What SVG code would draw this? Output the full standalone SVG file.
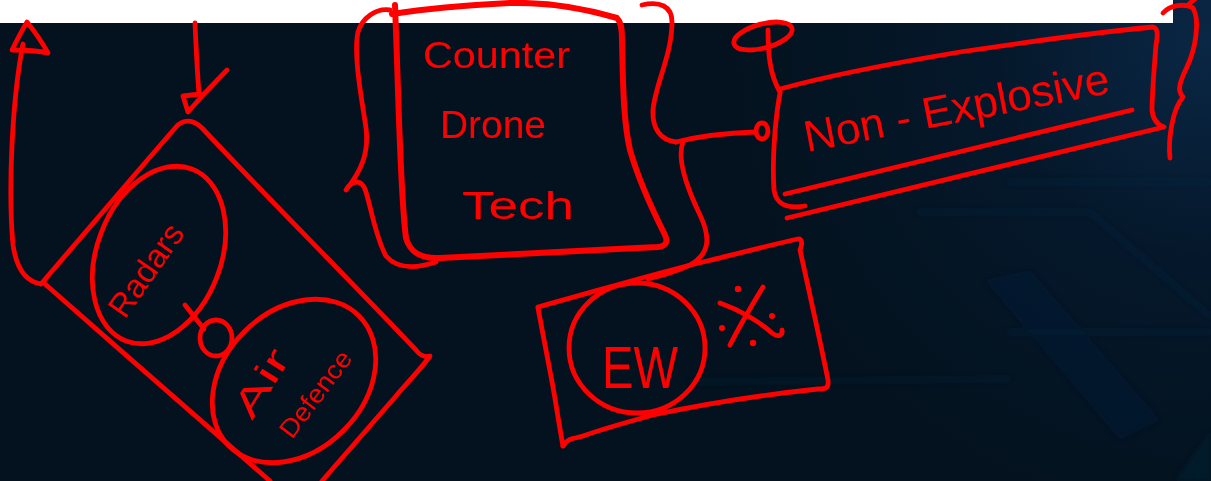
<svg xmlns="http://www.w3.org/2000/svg" width="1211" height="481" viewBox="0 0 1211 481">
  <defs>
    <radialGradient id="bgGlow" cx="1211" cy="40" r="480" gradientUnits="userSpaceOnUse">
      <stop offset="0" stop-color="#0a2745"/>
      <stop offset="0.45" stop-color="#05182b"/>
      <stop offset="1" stop-color="#03121e"/>
    </radialGradient>
    <filter id="soft" x="-10%" y="-10%" width="120%" height="120%">
      <feGaussianBlur stdDeviation="2.5"/>
    </filter>
    <style>
      .ink { fill: none; stroke: #ff0000; stroke-width: 4.8; stroke-linecap: round; stroke-linejoin: round; }
      .thick { stroke-width: 6; }
      .dot { fill: #ff0000; }
      .hand { fill: #ff0000; font-family: "Liberation Sans", "DejaVu Sans", sans-serif; }
      .trace { fill: none; stroke: #0b2946; stroke-width: 3; opacity: 0.5; }
    </style>
  </defs>

  <!-- backdrop -->
  <rect x="0" y="0" width="1211" height="481" fill="#03121e"/>
  <rect x="0" y="0" width="1211" height="481" fill="url(#bgGlow)"/>
  <g filter="url(#soft)">
    <path class="trace" d="M1007,182 L1211,182"/>
    <path class="trace" d="M917,212 L1090,212 L1211,317"/>
    <path class="trace" d="M1007,332 L1211,332"/>
    <path class="trace" d="M690,382 L1010,379"/>
    <path d="M985,280 L1030,270 L1160,420 L1120,440 Z" fill="#072039" opacity="0.35"/>
    <path d="M1175,481 L1211,430 L1211,481 Z" fill="#092640" opacity="0.35"/>
  </g>
  <rect x="0" y="0" width="1173" height="23" fill="#ffffff"/>

  <!-- Radars / Air Defence block -->
  <g id="node-defence">
    <path class="ink" d="M41,284 C80,238 130,180 176,127 C183,119 193,119 202,128 C260,190 340,270 416,350 C420,356 426,357 430,356 C420,370 405,385 396,396 L322,481"/>
    <path class="ink" d="M45,284 C120,350 200,420 270,481"/>
    <ellipse class="ink" cx="159" cy="255" rx="62" ry="92" transform="rotate(21 159 255)"/>
    <ellipse class="ink" cx="294" cy="381" rx="92" ry="70" transform="rotate(-45 294 381)"/>
    <text class="hand" x="125" y="320" font-size="33" textLength="106" lengthAdjust="spacingAndGlyphs" transform="rotate(-55 125 320)">Radars</text>
    <text class="hand" x="252" y="421" font-size="36" textLength="74" lengthAdjust="spacingAndGlyphs" transform="rotate(-58 252 421)">Air</text>
    <text class="hand" x="292" y="440" font-size="26" textLength="102" lengthAdjust="spacingAndGlyphs" transform="rotate(-53 292 440)">Defence</text>
  </g>

  <!-- Counter Drone Tech -->
  <g id="node-counter">
    <path class="ink thick" d="M392,14 C430,8 470,5 510,3 C550,2 590,10 617,18 C621,22 622,28 622,40 C623,80 623,120 630,150 C640,185 655,215 664,233 C669,242 666,246 658,247 C580,251 500,255 440,258 C420,259 410,252 406,238 C401,200 399,120 397,60 L395,5"/>
    <path class="ink" d="M390,10 C376,8 362,18 358,32 C353,55 362,100 366,128 C369,152 362,170 346,190 C352,180 362,178 366,192 C372,212 376,238 386,256 C398,270 418,268 436,262"/>
    <path class="ink" d="M642,5 C660,1 672,6 672,22 C672,55 655,85 653,110 C652,128 660,140 676,142"/>
    <text class="hand" x="423" y="68" font-size="36" textLength="147" lengthAdjust="spacingAndGlyphs">Counter</text>
    <text class="hand" x="440" y="138" font-size="38" textLength="106" lengthAdjust="spacingAndGlyphs">Drone</text>
    <text class="hand" x="462" y="219" font-size="38" textLength="112" lengthAdjust="spacingAndGlyphs">Tech</text>
  </g>

  <!-- Non - Explosive -->
  <g id="node-nonexplosive">
    <path class="ink" d="M780,89 C830,75 900,62 960,52 C1040,40 1100,32 1153,27 C1158,28 1158,35 1156,45 C1154,70 1152,95 1152,110 C1153,120 1158,125 1164,127 C1050,155 900,190 787,218"/>
    <path class="ink" d="M780,93 C775,120 772,160 774,190 C776,204 786,209 805,206"/>
    <path class="ink" d="M785,194 C880,172 1000,142 1132,110"/>
    <path class="ink" d="M1163,13 C1170,5 1185,3 1193,8 C1200,20 1196,48 1187,67 C1181,80 1176,90 1183,97 C1172,110 1168,140 1170,158"/>
    <path class="ink" d="M1188,5 L1196,-2"/>
    <text class="hand" x="807" y="152" font-size="44" textLength="310" lengthAdjust="spacingAndGlyphs" transform="rotate(-11 807 152)">Non - Explosive</text>
  </g>

  <!-- EW -->
  <g id="node-ew">
    <path class="ink" d="M538,307 C600,290 660,272 707,261 C740,253 770,245 798,239 C803,239 802,245 800,250 C810,295 820,340 828,380 C829,388 826,389 818,389 C760,395 700,405 653,415 C620,424 600,430 583,436 C575,439 568,437 563,446"/>
    <path class="ink" d="M538,308 C543,335 548,360 553,387 C557,410 560,430 563,446"/>
    <ellipse class="ink" cx="637" cy="348" rx="68" ry="65"/>
    <text class="hand" x="602" y="388" font-size="60" textLength="76" lengthAdjust="spacingAndGlyphs">EW</text>
    <path class="ink" d="M720,303 C740,310 760,322 772,333 C778,338 783,335 782,330"/>
    <path class="ink" d="M763,287 C752,305 740,325 730,345"/>
    <circle class="dot" cx="738" cy="289" r="3.2"/>
    <circle class="dot" cx="772" cy="316" r="3"/>
    <circle class="dot" cx="722" cy="328" r="3"/>
    <circle class="dot" cx="753" cy="343" r="3.2"/>
  </g>

  <!-- connectors -->
  <g id="connectors">
    <path class="ink" d="M23,44 C12,100 8,190 13,245 C17,272 28,282 41,284"/>
    <path class="ink" d="M27,22 C35,32 42,42 48,53 C35,50 22,50 12,50 C17,40 22,30 27,22 Z"/>
    <path class="ink" d="M195,23 C196,45 197,70 199,93"/>
    <path class="ink" d="M227,70 L203,95 L188,112 L183,96 L200,94"/>
    <path class="ink" d="M185,305 L204,329"/>
    <ellipse class="ink" cx="216" cy="338" rx="16" ry="18"/>
    <path class="ink" d="M676,142 C700,136 725,133 755,132"/>
    <ellipse class="ink" cx="762" cy="131" rx="6" ry="8"/>
    <path class="ink" d="M683,142 C676,160 688,190 700,215 C712,240 708,255 690,265 C675,272 660,276 648,279"/>
    <ellipse class="ink" cx="763" cy="36" rx="30" ry="12" transform="rotate(-15 763 36)"/>
    <path class="ink" d="M768,30 C768,55 770,75 780,92"/>
  </g>
</svg>
